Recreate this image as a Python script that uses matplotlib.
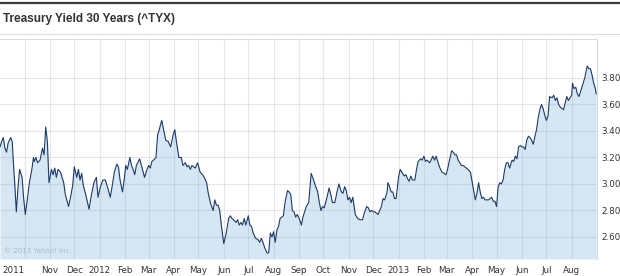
import matplotlib
matplotlib.use("Agg")
import matplotlib.pyplot as plt
import pandas as pd

title = "Treasury Yield 30 Years (^TYX)"
watermark = "\u00a9 2013 Yahoo! Inc."

dates = [
    "2011-09-01","2011-09-03","2011-09-05","2011-09-07","2011-09-09","2011-09-11","2011-09-14","2011-09-16",
    "2011-09-17","2011-09-19","2011-09-21","2011-09-23","2011-09-25","2011-09-28","2011-09-30","2011-10-02",
    "2011-10-04","2011-10-07","2011-10-10","2011-10-12","2011-10-13","2011-10-15","2011-10-17","2011-10-20",
    "2011-10-23","2011-10-25","2011-10-27","2011-10-29","2011-10-31","2011-11-03","2011-11-05","2011-11-07",
    "2011-11-09","2011-11-11","2011-11-14","2011-11-18","2011-11-20","2011-11-24","2011-11-27","2011-11-29",
    "2011-12-01","2011-12-04","2011-12-06","2011-12-08","2011-12-10","2011-12-12","2011-12-15","2011-12-19",
    "2011-12-22","2011-12-25","2011-12-28","2011-12-30","2012-01-02","2012-01-05","2012-01-08","2012-01-11",
    "2012-01-14","2012-01-16","2012-01-19","2012-01-22","2012-01-24","2012-01-26","2012-01-29","2012-01-31",
    "2012-02-02","2012-02-04","2012-02-07","2012-02-09","2012-02-11","2012-02-13","2012-02-15","2012-02-19",
    "2012-02-22","2012-02-25","2012-02-28","2012-03-01","2012-03-03","2012-03-05","2012-03-07","2012-03-10",
    "2012-03-12","2012-03-14","2012-03-17","2012-03-19","2012-03-22","2012-03-25","2012-03-28","2012-03-31",
    "2012-04-02","2012-04-04","2012-04-07","2012-04-10","2012-04-12","2012-04-15","2012-04-17","2012-04-19",
    "2012-04-21","2012-04-23","2012-04-27","2012-04-30","2012-05-03","2012-05-06","2012-05-08","2012-05-11",
    "2012-05-13","2012-05-16","2012-05-19","2012-05-21","2012-05-23","2012-05-25","2012-05-27","2012-05-29",
    "2012-06-01","2012-06-04","2012-06-07","2012-06-09","2012-06-11","2012-06-13","2012-06-16","2012-06-18",
    "2012-06-20","2012-06-22","2012-06-24","2012-06-26","2012-06-28","2012-07-01","2012-07-03","2012-07-05",
    "2012-07-07","2012-07-10","2012-07-13","2012-07-15","2012-07-17","2012-07-19","2012-07-21","2012-07-24",
    "2012-07-26","2012-07-28","2012-07-30","2012-08-01","2012-08-03","2012-08-05","2012-08-07","2012-08-09",
    "2012-08-11","2012-08-13","2012-08-15","2012-08-18","2012-08-20","2012-08-22","2012-08-24","2012-08-26",
    "2012-08-28","2012-08-30","2012-09-02","2012-09-04","2012-09-06","2012-09-10","2012-09-13","2012-09-16",
    "2012-09-19","2012-09-21","2012-09-24","2012-09-26","2012-09-28","2012-09-30","2012-10-02","2012-10-05",
    "2012-10-08","2012-10-10","2012-10-12","2012-10-15","2012-10-18","2012-10-20","2012-10-23","2012-10-25",
    "2012-10-27","2012-10-29","2012-10-31","2012-11-02","2012-11-04","2012-11-06","2012-11-09","2012-11-12",
    "2012-11-15","2012-11-18","2012-11-20","2012-11-23","2012-11-25","2012-11-27","2012-11-29","2012-12-01",
    "2012-12-03","2012-12-05","2012-12-07","2012-12-09","2012-12-11","2012-12-13","2012-12-15","2012-12-18",
    "2012-12-19","2012-12-21","2012-12-23","2012-12-25","2012-12-27","2012-12-29","2013-01-01","2013-01-03",
    "2013-01-05","2013-01-08","2013-01-10","2013-01-12","2013-01-14","2013-01-16","2013-01-18","2013-01-21",
    "2013-01-23","2013-01-25","2013-01-28","2013-01-30","2013-02-01","2013-02-03","2013-02-05","2013-02-08",
    "2013-02-09","2013-02-12","2013-02-14","2013-02-16","2013-02-18","2013-02-20","2013-02-23","2013-02-26",
    "2013-02-28","2013-03-02","2013-03-04","2013-03-07","2013-03-09","2013-03-11","2013-03-13","2013-03-15",
    "2013-03-17","2013-03-19","2013-03-21","2013-03-23","2013-03-25","2013-03-27","2013-03-30","2013-04-01",
    "2013-04-03","2013-04-05","2013-04-07","2013-04-09","2013-04-11","2013-04-13","2013-04-15","2013-04-17",
    "2013-04-19","2013-04-21","2013-04-23","2013-04-25","2013-04-27","2013-04-29","2013-05-01","2013-05-03",
    "2013-05-05","2013-05-07","2013-05-09","2013-05-11","2013-05-13","2013-05-15","2013-05-17","2013-05-20",
    "2013-05-22","2013-05-24","2013-05-26","2013-05-28","2013-05-30","2013-06-01","2013-06-03","2013-06-05",
    "2013-06-07","2013-06-09","2013-06-11","2013-06-13","2013-06-15","2013-06-17","2013-06-19","2013-06-21",
    "2013-06-23","2013-06-25","2013-06-27","2013-06-29","2013-07-01","2013-07-03","2013-07-05","2013-07-08",
    "2013-07-10","2013-07-12","2013-07-14","2013-07-16","2013-07-18","2013-07-20","2013-07-22","2013-07-24",
    "2013-07-26","2013-07-28","2013-07-30","2013-08-01","2013-08-02","2013-08-04","2013-08-06","2013-08-08",
    "2013-08-10","2013-08-12","2013-08-15","2013-08-17","2013-08-19","2013-08-20","2013-08-22","2013-08-24",
    "2013-08-26","2013-08-28","2013-08-30","2013-08-31",
]

yields = [
    3.28,3.32,3.35,3.27,3.24,3.31,3.35,3.32,
    3.20,3.01,2.79,2.97,3.11,3.05,2.89,2.77,
    2.86,3.01,3.11,3.20,3.17,3.20,3.16,3.18,
    3.27,3.22,3.43,3.32,3.01,3.11,3.07,3.12,
    3.05,3.11,3.09,3.01,2.92,2.83,2.92,2.99,
    3.13,3.05,3.11,3.03,3.08,2.99,2.92,2.81,
    2.92,3.01,3.05,2.90,2.98,3.03,3.03,2.97,
    2.90,2.97,3.09,3.15,3.13,3.03,2.94,3.03,
    3.14,3.11,3.20,3.14,3.11,3.07,3.14,3.19,
    3.12,3.05,3.11,3.14,3.12,3.17,3.18,3.20,
    3.37,3.41,3.48,3.42,3.33,3.32,3.28,3.37,
    3.41,3.32,3.20,3.20,3.14,3.16,3.13,3.14,
    3.11,3.14,3.12,3.16,3.09,3.07,3.05,3.01,
    2.93,2.85,2.80,2.88,2.84,2.84,2.80,2.69,
    2.55,2.63,2.74,2.76,2.74,2.73,2.71,2.73,
    2.69,2.71,2.69,2.74,2.69,2.76,2.69,2.68,
    2.63,2.59,2.58,2.56,2.59,2.56,2.52,2.48,
    2.48,2.63,2.60,2.64,2.56,2.65,2.68,2.74,
    2.75,2.76,2.86,2.95,2.94,2.92,2.80,2.79,
    2.75,2.77,2.73,2.69,2.75,2.83,2.86,3.08,
    3.03,2.99,2.94,2.86,2.80,2.83,2.82,2.89,
    2.97,2.92,2.86,2.86,2.95,3.00,2.94,2.93,
    2.98,2.95,2.88,2.90,2.86,2.90,2.77,2.74,
    2.73,2.73,2.78,2.83,2.82,2.79,2.80,2.79,
    2.79,2.78,2.77,2.80,2.83,2.89,2.88,2.94,
    3.01,2.98,2.94,2.94,2.89,2.89,3.05,3.11,
    3.09,3.06,3.07,3.04,3.02,3.06,3.03,3.03,
    3.11,3.17,3.19,3.18,3.21,3.17,3.18,3.16,
    3.17,3.21,3.18,3.21,3.17,3.13,3.09,3.08,
    3.07,3.11,3.17,3.25,3.24,3.22,3.22,3.18,
    3.16,3.14,3.14,3.13,3.12,3.11,3.09,3.02,
    2.95,2.88,2.93,3.01,2.94,2.89,2.90,2.88,
    2.88,2.88,2.89,2.90,2.87,2.87,2.83,2.98,
    3.01,3.00,3.03,3.11,3.16,3.16,3.12,3.18,
    3.17,3.21,3.19,3.28,3.29,3.28,3.28,3.26,
    3.33,3.36,3.35,3.33,3.30,3.36,3.41,3.50,
    3.56,3.60,3.57,3.52,3.48,3.51,3.66,3.65,
    3.67,3.63,3.65,3.60,3.58,3.57,3.56,3.61,
    3.66,3.63,3.65,3.67,3.76,3.72,3.73,3.68,
    3.66,3.70,3.76,3.80,3.86,3.89,3.87,3.87,
    3.82,3.76,3.72,3.68,
]

month_ticks = ["2011-10-01","2011-11-01","2011-12-01","2012-01-01","2012-02-01","2012-03-01",
               "2012-04-01","2012-05-01","2012-06-01","2012-07-01","2012-08-01","2012-09-01",
               "2012-10-01","2012-11-01","2012-12-01","2013-01-01","2013-02-01","2013-03-01",
               "2013-04-01","2013-05-01","2013-06-01","2013-07-01","2013-08-01"]
month_labels = ["2011","Nov","Dec","2012","Feb","Mar","Apr","May","Jun","Jul","Aug","Sep",
                "Oct","Nov","Dec","2013","Feb","Mar","Apr","May","Jun","Jul","Aug"]
y_ticks = [2.60, 2.80, 3.00, 3.20, 3.40, 3.60, 3.80]
x_range = ["2011-09-01", "2013-09-01"]
y_range = [2.434, 4.094]

W, H = 620, 276
fig = plt.figure(figsize=(W / 100, H / 100), dpi=100)
fig.patch.set_facecolor("white")

# header decorations
fig.add_artist(plt.Line2D([0, 1], [1 - 2.5 / H, 1 - 2.5 / H], color="#3c3c3c", lw=1.6))
fig.add_artist(plt.Line2D([0, 1], [1 - 33.5 / H, 1 - 33.5 / H], color="#dcdcdc", lw=0.8))
fig.text(3 / W, 1 - 19 / H, title, ha="left", va="center", fontsize=8.5,
         fontweight="bold", family=["Liberation Sans", "DejaVu Sans"], color="#333333")

ax = fig.add_axes([0, 1 - 259 / H, 597 / W, 220 / H])
x = pd.to_datetime(dates)
ax.set_xlim(pd.to_datetime(x_range[0]), pd.to_datetime(x_range[1]))
ax.set_ylim(*y_range)

line_color = "#1b3a68"
fill_color = "#d6e6f2"
ax.fill_between(x, yields, y_range[0], color=fill_color, lw=0, zorder=1)
ax.plot(x, yields, color=line_color, lw=0.8, zorder=3)

ax.set_axisbelow(False)
ax.grid(True, color=(0.58, 0.65, 0.73), alpha=0.26, lw=0.8)

ax.set_xticks(pd.to_datetime(month_ticks))
ax.set_xticklabels(month_labels)
ax.set_yticks(y_ticks)
ax.set_yticklabels([f"{v:.2f}" for v in y_ticks])
ax.yaxis.tick_right()
ax.tick_params(axis="both", length=0, labelsize=6.3, colors="#333333")
ax.tick_params(axis="x", pad=5)
ax.tick_params(axis="y", pad=3)
for lab in ax.get_yticklabels():
    lab.set_ha("left")
first = ax.get_xticklabels()[0]
first.set_ha("right")

for side in ["left", "bottom"]:
    ax.spines[side].set_visible(False)
for side in ["top", "right"]:
    ax.spines[side].set_color("#d6dbe1")
    ax.spines[side].set_linewidth(0.8)

ax.text(4 / 597, 8 / 220, watermark, transform=ax.transAxes, fontsize=5,
        color="#a9b9c8", ha="left", va="center", zorder=4)

fig.savefig("out.png", dpi=100)
